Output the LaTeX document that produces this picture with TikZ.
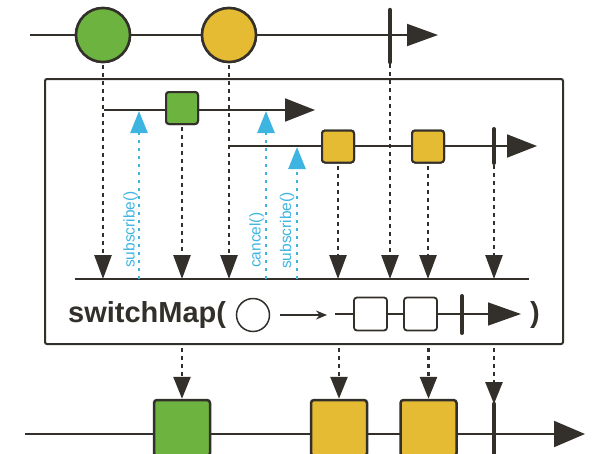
\documentclass[tikz,border=0pt]{standalone}
\usepackage{fontspec}
\setmainfont{Liberation Sans}
\usetikzlibrary{arrows.meta}
\definecolor{dk}{RGB}{51,48,43}
\definecolor{gr}{RGB}{109,179,63}
\definecolor{yl}{RGB}{229,187,52}
\definecolor{bl}{RGB}{62,180,225}
\tikzset{
  tl/.style={draw=dk, line width=2pt},
  marble/.style={circle, draw=dk, line width=2.5pt, minimum size=54pt, inner sep=0pt},
  sq/.style={draw=dk, line width=2pt, rounded corners=3pt, minimum size=32pt, inner sep=0pt},
  dotarr/.style={draw=dk, line width=2.6pt, dash pattern=on 4pt off 4pt, -{Triangle[length=24pt,width=17pt]}},
  dotarrb/.style={draw=dk, line width=2.6pt, dash pattern=on 4pt off 4pt, -{Triangle[length=22pt,width=17pt]}},
  bluearr/.style={draw=bl, line width=2.6pt, dash pattern=on 3.5pt off 4.5pt, -{Triangle[length=22pt,width=17pt]}},
  lbl/.style={text=bl, font=\fontsize{15.5}{15.5}\selectfont, rotate=90, anchor=base west, inner sep=0pt},
  barline/.style={draw=dk, line width=4.5pt, line cap=round},
  bigtxt/.style={anchor=base west, inner sep=0pt, text=dk, font=\fontsize{29}{29}\selectfont\bfseries}
}
\begin{document}
\begin{tikzpicture}[x=1pt,y=-1pt]
\useasboundingbox (0,0) rectangle (592,453);
\clip (0,0) rectangle (592,453);

% top timeline
\coordinate (ts) at (30,35);
\coordinate (te) at (438,35);
\coordinate (b1t) at (390,10);
\coordinate (b1b) at (390,62);
\node[marble, fill=gr] (c1) at (103,35) {};
\node[marble, fill=yl] (c2) at (229,35) {};

% box
\node[draw=dk, line width=2pt, rounded corners=2pt, minimum width=518pt, minimum height=265pt, inner sep=0pt] (box) at (304,211.5) {};

% inner timelines coordinates
\coordinate (i1s) at (104,110);
\coordinate (i1e) at (315,110);
\coordinate (i2s) at (229,146);
\coordinate (i2e) at (537,146);
\coordinate (b2t) at (494,129);
\coordinate (b2b) at (494,163);
\coordinate (ms) at (75,279);
\coordinate (me) at (529,279);

\node[sq, fill=gr] (s1) at (182,108) {};
\node[sq, fill=yl] (s2) at (338,146.5) {};
\node[sq, fill=yl] (s3) at (428,146.5) {};

% dotted down arrows
\draw[dotarr] ([yshift=-2pt]c1.south) -- (c1.south |- ms);
\draw[dotarr] ([yshift=-2pt]s1.south) -- (s1.south |- ms);
\draw[dotarr] ([yshift=-2pt]c2.south) -- (c2.south |- ms);
\draw[dotarr] ([yshift=-2pt]s2.south) -- (s2.south |- ms);
\draw[dotarr] ([yshift=-2pt]b1b) -- (b1b |- ms);
\draw[dotarr] ([yshift=-2pt]s3.south) -- (s3.south |- ms);
\draw[dotarr] ([yshift=-2pt]b2b) -- (b2b |- ms);

% timelines
\draw[tl, -{Triangle[length=31pt,width=22pt]}] (ts) -- (te);
\node[marble, fill=gr] at (c1) {};
\node[marble, fill=yl] at (c2) {};
\draw[barline] (b1t) -- (b1b);

\draw[tl, -{Triangle[length=30pt,width=23pt]}] (i1s) -- (i1e);
\node[sq, fill=gr] at (s1) {};
\draw[tl, -{Triangle[length=30pt,width=23pt]}] (i2s) -- (i2e);
\node[sq, fill=yl] at (s2) {};
\node[sq, fill=yl] at (s3) {};
\draw[barline, line width=4pt] (b2t) -- (b2b);
\draw[tl] (ms) -- (me);

% blue arrows
\coordinate (u1s) at (139,279); \coordinate (u1e) at (139,111);
\coordinate (u2s) at (266,279); \coordinate (u2e) at (266,111);
\coordinate (u3s) at (297,279); \coordinate (u3e) at (297,147);
\draw[bluearr] (u1s) -- (u1e);
\draw[bluearr] (u2s) -- (u2e);
\draw[bluearr] (u3s) -- (u3e);
\node[lbl] (l1) at (134.5,268) {subscribe()};
\node[lbl] (l2) at (260.5,268) {cancel()};
\node[lbl] (l3) at (291,269) {subscribe()};

% switchMap row
\node[bigtxt] (sm) at (68,322) {switchMap(};
\node[circle, draw=dk, line width=1.5pt, minimum size=33pt, inner sep=0pt] (ec) at (253,315) {};
\coordinate (as) at (280,315); \coordinate (ae) at (327,315);
\draw[dk, line width=1.5pt, -{Stealth[length=11pt,width=9pt]}] (as) -- (ae);
\coordinate (ls) at (335,314); \coordinate (le) at (521,314);
\draw[dk, line width=1.5pt, -{Triangle[length=33pt,width=23pt]}] (ls) -- (le);
\node[sq, fill=white, minimum size=33pt, line width=1.8pt] (e1) at (370.5,314) {};
\node[sq, fill=white, minimum size=33pt, line width=1.8pt] (e2) at (420.5,314) {};
\coordinate (b3t) at (462,296); \coordinate (b3b) at (462,333);
\draw[barline, line width=4pt] (b3t) -- (b3b);
\node[bigtxt] (cp) at (530,322) {)};

% bottom timeline
\coordinate (bs) at (25,434); \coordinate (be) at (585,434);
\coordinate (b4t) at (494,404); \coordinate (b4b) at (494,470);
\draw[tl, -{Triangle[length=31pt,width=26pt]}] (bs) -- (be);
\node[sq, minimum size=56pt, line width=2.5pt, fill=gr] (o1) at (182,428) {};
\node[sq, minimum size=56pt, line width=2.5pt, fill=yl] (o2) at (339,428) {};
\node[sq, minimum size=56pt, line width=2.5pt, fill=yl] (o3) at (428.5,428) {};
\draw[barline] (b4t) -- (b4b);

\draw[dotarrb] ([yshift=-3pt]o1.north |- box.south) -- (o1.north);
\draw[dotarrb] ([yshift=-3pt]o2.north |- box.south) -- (o2.north);
\draw[dotarrb] ([yshift=-3pt]o3.north |- box.south) -- (o3.north);
\draw[dotarrb] ([yshift=-3pt]b4t |- box.south) -- (b4t);
\end{tikzpicture}
\end{document}
